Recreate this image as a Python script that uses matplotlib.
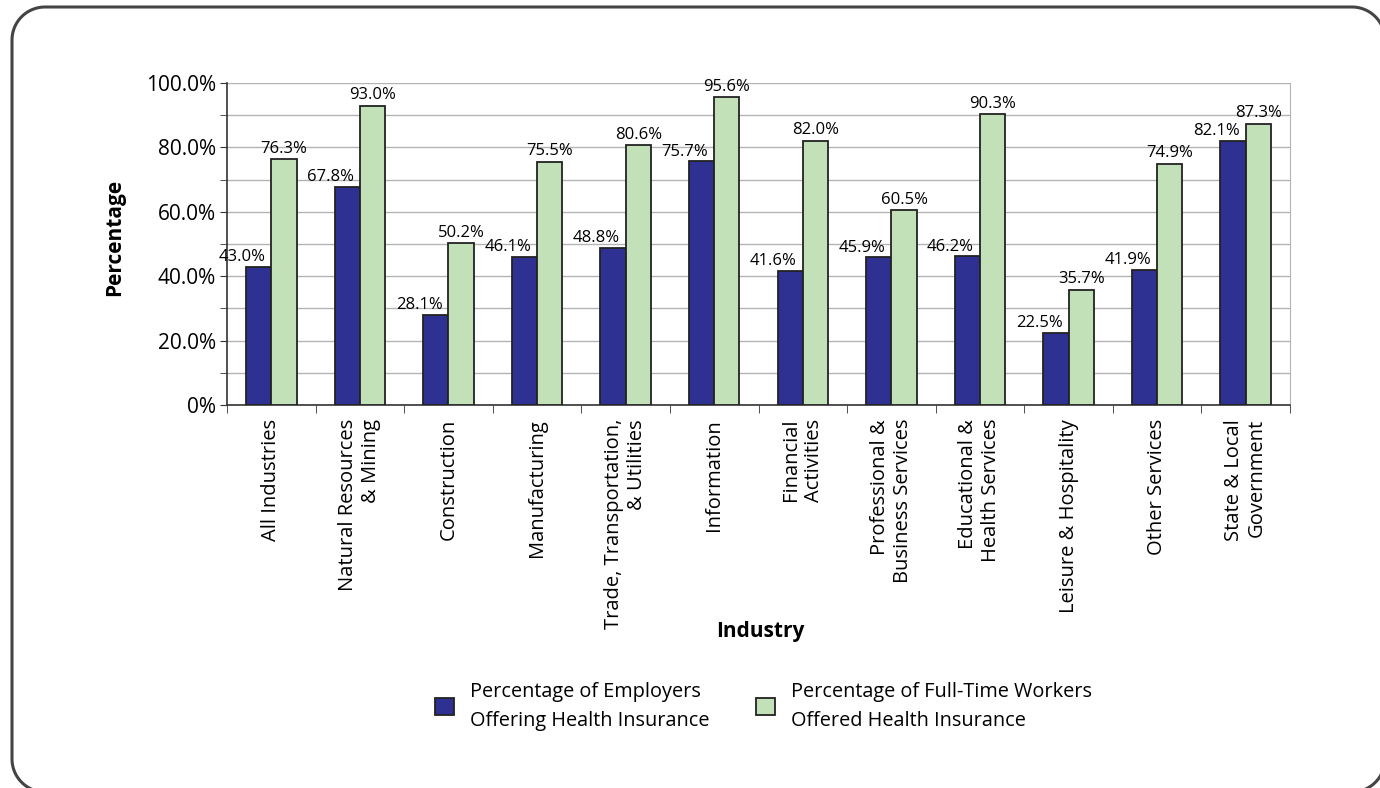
import numpy as np
import matplotlib
matplotlib.use("Agg")
import matplotlib.pyplot as plt
from matplotlib.lines import Line2D
from matplotlib.patches import Patch
from matplotlib.ticker import MultipleLocator, FuncFormatter
from matplotlib.transforms import IdentityTransform

industries = [
    "All Industries", "Natural Resources\n& Mining", "Construction", "Manufacturing",
    "Trade, Transportation,\n& Utilities", "Information", "Financial\nActivities",
    "Professional &\nBusiness Services", "Educational &\nHealth Services",
    "Leisure & Hospitality", "Other Services", "State & Local\nGovernment",
]
employers_pct = [43.0, 67.8, 28.1, 46.1, 48.8, 75.7, 41.6, 45.9, 46.2, 22.5, 41.9, 82.1]
workers_pct = [76.3, 93.0, 50.2, 75.5, 80.6, 95.6, 82.0, 60.5, 90.3, 35.7, 74.9, 87.3]
series_names = ["Percentage of Employers\nOffering Health Insurance",
                "Percentage of Full-Time Workers\nOffered Health Insurance"]

plt.rcParams["font.family"] = ["Open Sans", "DejaVu Sans"]
BLUE, GREEN, EDGE = "#2e3192", "#c3e1b9", "#222222"

W, H = 1380, 788
fig = plt.figure(figsize=(W / 100, H / 100), dpi=100)


def rounded_frame(left, bottom, right, top, r, n=24):
    """Polyline outline of a rounded rectangle in pixel units (y up)."""
    corners = [(right - r, top - r, 0.0), (left + r, top - r, 90.0),
               (left + r, bottom + r, 180.0), (right - r, bottom + r, 270.0)]
    xs, ys = [], []
    for cx, cy, a0 in corners:
        t = np.radians(np.linspace(a0, a0 + 90.0, n))
        xs.extend(cx + r * np.cos(t))
        ys.extend(cy + r * np.sin(t))
    xs.append(xs[0])
    ys.append(ys[0])
    return xs, ys


# outer frame runs off the right and bottom edges of the canvas
fx, fy = rounded_frame(12, H - 792, 1385, H - 7, 33)
fig.add_artist(Line2D(fx, fy, transform=IdentityTransform(), color="#444444", linewidth=2.2))

ax = fig.add_axes([0.1645, 0.486, 0.7703, 0.4087])
x = np.arange(len(industries))
w = 0.285
ax.bar(x - w / 2, employers_pct, w, color=BLUE, edgecolor=EDGE, linewidth=1.3, zorder=3)
ax.bar(x + w / 2, workers_pct, w, color=GREEN, edgecolor=EDGE, linewidth=1.3, zorder=3)
for xi, e, g in zip(x, employers_pct, workers_pct):
    ax.text(xi - w / 2 - 0.19, e + 0.5, f"{e:.1f}%", ha="center", va="bottom", fontsize=12, zorder=4)
    ax.text(xi + w / 2, g + 0.8, f"{g:.1f}%", ha="center", va="bottom", fontsize=12, zorder=4)

ax.set_xlim(-0.5, len(industries) - 0.5)
ax.set_ylim(0, 100)
ax.yaxis.set_major_locator(MultipleLocator(20))
ax.yaxis.set_minor_locator(MultipleLocator(10))
ax.yaxis.set_major_formatter(FuncFormatter(lambda v, _: "0%" if v == 0 else f"{v:.1f}%"))
ax.grid(axis="y", which="both", color="#b4b4b4", linewidth=1.0, zorder=0)
ax.tick_params(axis="y", which="major", length=5, labelsize=15, color="#333333", pad=3)
ax.tick_params(axis="y", which="minor", length=5, color="#333333")

ax.set_xticks(np.arange(len(industries) + 1) - 0.5, minor=True)
ax.set_xticks(x)
ax.set_xticklabels(industries, rotation=90, ha="center", va="top", multialignment="right", fontsize=14.5)
ax.tick_params(axis="x", which="major", length=0, pad=10)
ax.tick_params(axis="x", which="minor", length=6, color="#333333")

ax.spines["top"].set_visible(False)
ax.spines["right"].set_color("#b4b4b4")
ax.spines["left"].set_color("#333333")
ax.spines["bottom"].set_color("#333333")
ax.spines["left"].set_linewidth(1.2)
ax.spines["bottom"].set_linewidth(1.2)

fig.text(115 / W, 1 - 237 / H, "Percentage", rotation=90, ha="center", va="center",
         fontsize=15, fontweight="bold")
fig.text(0.551, 0.198, "Industry", ha="center", va="center", fontsize=15, fontweight="bold")

handles = [Patch(facecolor=BLUE, edgecolor=EDGE, linewidth=1.3),
           Patch(facecolor=GREEN, edgecolor=EDGE, linewidth=1.3)]
leg = fig.legend(handles, series_names, loc="center", bbox_to_anchor=(0.5535, 0.104), ncol=2,
                 frameon=False, fontsize=14.3, handlelength=0.95, handleheight=0.95,
                 handletextpad=0.8, columnspacing=2.35)
for t in leg.get_texts():
    t.set_linespacing(1.6)

fig.savefig("out.png", dpi=100)
